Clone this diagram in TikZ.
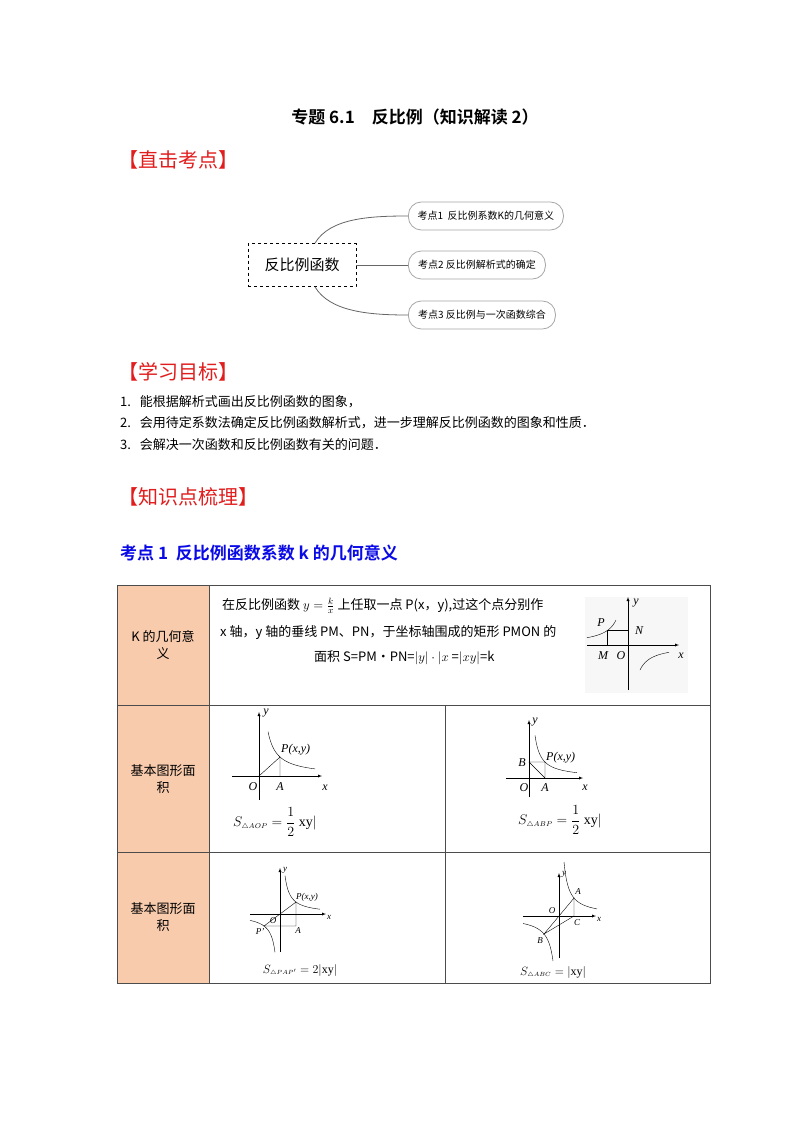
\RequirePackage{fix-cm}
\documentclass[tikz,border=0pt]{standalone}
\usepackage{amsmath}
\usepackage{fontspec}
\setmainfont{Liberation Serif}
\newfontfamily\cjk{Noto Sans CJK SC}
\newfontfamily\cjkb{Noto Sans CJK SC Bold}
\definecolor{hred}{RGB}{225,30,30}
\definecolor{hblue}{RGB}{10,10,230}
\definecolor{cellor}{RGB}{248,203,173}
\begin{document}
\begin{tikzpicture}[x=1pt,y=-1pt,
  fs/.style={font=\fontsize{#1}{#1}\selectfont\cjk},
  head/.style={anchor=west,inner sep=0,text=hred,font=\fontsize{20}{20}\selectfont\cjk},
  body/.style={anchor=west,inner sep=0,font=\fontsize{13}{13}\selectfont\cjk},
  pill/.style={draw=gray!70,rounded corners=13pt,thick,minimum height=28pt,anchor=west,inner xsep=7pt,font=\fontsize{10}{10}\selectfont\cjk},
  ax/.style={-latex,thin},
  gl/.style={font=\fontsize{12}{12}\selectfont\itshape,inner sep=0},
  tl/.style={font=\fontsize{9}{9}\selectfont\itshape,inner sep=0},
  fm/.style={inner sep=0,font=\fontsize{#1}{#1}\selectfont},
  conn/.style={gray!80!black,thick},
  tline/.style={gray!60!black,line width=1pt}]
\useasboundingbox (0,0) rectangle (800,1132);
\fill[white] (0,0) rectangle (800,1132);
\node[inner sep=0,font=\fontsize{17}{17}\selectfont\cjkb] (title) at (415,117) {专题 6.1\quad 反比例（知识解读 2）};
\node[head] (h1) at (118,160) {【直击考点】};
% mind map
\node[draw,dashed,thick,minimum width=108pt,minimum height=43pt,font=\fontsize{15}{15}\selectfont\cjk] (root) at (302,265) {反比例函数};
\node[pill,minimum width=155pt] (k1) at (408,216) {考点1\ \ 反比例系数K的几何意义};
\node[pill,minimum width=137pt] (k2) at (408,265) {考点2\ 反比例解析式的确定};
\node[pill,minimum width=147pt] (k3) at (408,315) {考点3\ 反比例与一次函数综合};
\draw[conn] ([xshift=13pt]root.north) .. controls (330,218) and (370,216) .. (k1.west);
\draw[conn] (root.east) -- (k2.west);
\draw[conn] ([xshift=13pt]root.south) .. controls (330,312) and (370,315) .. (k3.west);
\node[head] (h2) at (118,372) {【学习目标】};
\node[body] (l1) at (120,402) {1.\ \ \ 能根据解析式画出反比例函数的图象，};
\node[body] (l2) at (120,423) {2.\ \ \ 会用待定系数法确定反比例函数解析式，进一步理解反比例函数的图象和性质．};
\node[body] (l3) at (120,445) {3.\ \ \ 会解决一次函数和反比例函数有关的问题．};
\node[head] (h3) at (118,497) {【知识点梳理】};
\node[anchor=west,inner sep=0,text=hblue,font=\fontsize{17}{17}\selectfont\cjkb] (h4) at (120,553) {考点 1\ \ 反比例函数系数 k 的几何意义};
% table
\fill[cellor] (117,585) rectangle (209,983);
\draw[tline] (117,585) rectangle (710,983);
\draw[tline] (209,585) -- (209,983);
\draw[tline] (117,705) -- (710,705);
\draw[tline] (117,852) -- (710,852);
\draw[tline] (445,705) -- (445,983);
\node[fs=13,align=center] (c1) at (163,645) {K 的几何意\\[4pt]义};
\node[fs=13,align=center] (c2) at (163,779) {基本图形面\\[4pt]积};
\node[fs=13,align=center] (c3) at (163,917) {基本图形面\\[4pt]积};
\node[body] (t1) at (222,606) {在反比例函数 $y=\frac{k}{x}$ 上任取一点 P(x，y),过这个点分别作};
\node[body] (t2) at (220,633) {x 轴，y 轴的垂线 PM、PN，于坐标轴围成的矩形 PMON 的};
\node[body] (t3) at (314,658) {面积 S=PM·PN=$|y|\cdot|x$ =$|xy|$=k};
% graph 0
\fill[gray!6] (585,597) rectangle (688,693);
\draw[ax] (587,645) -- (679,645);
\draw[ax] (628,690) -- (628,597);
\draw[thin] plot[domain=-41:-12,samples=30] ({628+\x},{645+300/\x});
\draw[thin] plot[domain=12:41,samples=30] ({628+\x},{645+300/\x});
\draw[thin] (607,645) -- (607,630) -- (628,630);
\node[gl] at (601,623) {P}; \node[gl] at (639,631) {N};
\node[gl] at (603,656) {M}; \node[gl] at (621,656) {O};
\node[gl] at (681,656) {x}; \node[gl] at (636,603) {y};
% graph 1
\draw[ax] (232,776) -- (322,776);
\draw[ax] (259,800) -- (259,712);
\draw[thin] plot[domain=9:56,samples=40] ({259+\x},{776-400/\x});
\draw[thin] (259,776) -- (280,757) -- (280,776);
\node[gl] at (253,787) {O}; \node[gl] at (280,787) {A};
\node[gl] at (325,788) {x}; \node[gl] at (266,713) {y};
\node[gl,anchor=west] at (281,750) {P(x,y)};
\node[fm=14] at (275,822) {$S_{\scriptscriptstyle\triangle AOP}=\dfrac12$ xy$|$};
% graph 2
\draw[ax] (506,778) -- (583,778);
\draw[ax] (529,797) -- (529,720);
\draw[thin] plot[domain=6:48,samples=40] ({529+\x},{778-256/\x});
\draw[thin] (529,762) -- (545,762) -- (545,778) -- cycle;
\node[gl] at (524,788) {O}; \node[gl] at (545,788) {A};
\node[gl] at (522,763) {B};
\node[gl] at (585,788) {x}; \node[gl] at (535,722) {y};
\node[gl,anchor=west] at (546,758) {P(x,y)};
\node[fm=14] at (560,820) {$S_{\scriptscriptstyle\triangle ABP}=\dfrac12$ xy$|$};
% graph 3
\draw[ax] (250,914) -- (326,914);
\draw[ax] (280,952) -- (280,868);
\draw[thin] plot[domain=5:40,samples=40] ({280+\x},{914-192/\x});
\draw[thin] plot[domain=-30:-5,samples=40] ({280+\x},{914-192/\x});
\draw[thin] (264,926) -- (296,902) -- (296,926) -- cycle;
\node[tl] at (273,921) {O}; \node[tl] at (298,931) {A};
\node[tl] at (260,931) {P'};
\node[tl] at (329,917) {x}; \node[tl] at (285,870) {y};
\node[tl,anchor=west] at (296,897) {P(x,y)};
\node[fm=12] at (300,970) {$S_{\scriptscriptstyle\triangle PAP'}=2|$xy$|$};
% graph 4
\draw[ax] (523,916) -- (596,916);
\draw[ax] (559,958) -- (559,873);
\draw[thin] plot[domain=5:38,samples=40] ({559+\x},{916-270/\x});
\draw[thin] plot[domain=-36:-6,samples=40] ({559+\x},{916-270/\x});
\draw[thin] (544,934) -- (574,898) -- (574,916) -- cycle;
\node[tl] at (552,911) {O}; \node[tl] at (577,923) {C};
\node[tl] at (578,892) {A}; \node[tl] at (540,941) {B};
\node[tl] at (599,919) {x}; \node[tl] at (564,874) {y};
\node[fm=12] at (553,972) {$S_{\scriptscriptstyle\triangle ABC}=|$xy$|$};
\end{tikzpicture}
\end{document}
